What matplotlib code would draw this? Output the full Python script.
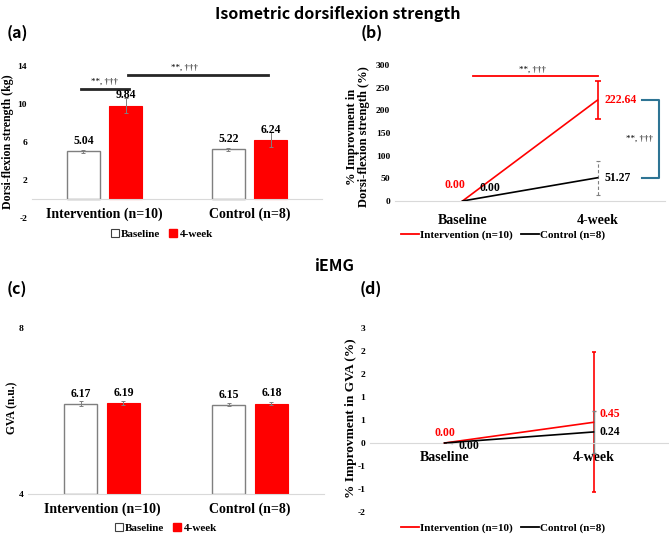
import numpy as np
import matplotlib
matplotlib.use("Agg")
import matplotlib.pyplot as plt
from matplotlib.patches import Patch
from matplotlib.lines import Line2D

# data
groups = ["Intervention (n=10)", "Control (n=8)"]
times = ["Baseline", "4-week"]

strength_base = [5.04, 5.22]
strength_base_err = [0.15, 0.15]
strength_post = [9.84, 6.24]
strength_post_err = [0.77, 0.8]

impr_strength_int = [0.00, 222.64]
impr_strength_int_err = [0, 41]
impr_strength_ctl = [0.00, 51.27]
impr_strength_ctl_err = [0, 37]

gva_base = [6.17, 6.15]
gva_base_err = [0.06, 0.04]
gva_post = [6.19, 6.18]
gva_post_err = [0.04, 0.03]

impr_gva_int = [0.00, 0.45]
impr_gva_int_err = [0, 1.52]
impr_gva_ctl = [0.00, 0.24]
impr_gva_ctl_err = [0, 0.46]

W, H = 669, 535
RED = "#ff0000"
GRAY = "#7f7f7f"
BLUE = "#2e7494"
SERIF = "Liberation Serif"
SANS = "Noto Sans CJK KR"

plt.rcParams["font.family"] = SERIF
plt.rcParams["font.weight"] = "bold"
plt.rcParams["axes.unicode_minus"] = False

fig = plt.figure(figsize=(W / 100, H / 100), dpi=100)


def box(x0, y0, x1, y1):
    return [x0 / W, 1 - y1 / H, (x1 - x0) / W, (y1 - y0) / H]


def clean(ax, base):
    for s in ["top", "right", "left"]:
        ax.spines[s].set_visible(False)
    ax.spines["bottom"].set_position(("data", base))
    ax.spines["bottom"].set_color("#d9d9d9")
    ax.tick_params(axis="both", length=0)
    ax.tick_params(axis="y", labelsize=6.8)
    for lab in ax.get_yticklabels():
        lab.set_fontweight("bold")


def bars(ax, base, base_err, post, post_err, bottom):
    x = np.arange(len(groups))
    off, w = 0.145, 0.228
    ax.bar(x - off, np.array(base) - bottom, w, bottom=bottom, color="white",
           edgecolor=GRAY, linewidth=1.0, zorder=2)
    ax.bar(x + off, np.array(post) - bottom, w, bottom=bottom, color=RED,
           edgecolor=RED, linewidth=0.8, zorder=2)
    ax.errorbar(x - off, base, yerr=base_err, fmt="none", ecolor=GRAY,
                elinewidth=0.7, capsize=1.5, capthick=0.7, zorder=3)
    ax.errorbar(x + off, post, yerr=post_err, fmt="none", ecolor=GRAY,
                elinewidth=0.7, capsize=1.5, capthick=0.7, zorder=3)
    for xi, v in zip(x - off, base):
        ax.annotate(f"{v:.2f}", (xi, v), xytext=(0, 3), textcoords="offset points",
                    ha="center", va="bottom", fontsize=8.5, fontweight="bold")
    for xi, v in zip(x + off, post):
        ax.annotate(f"{v:.2f}", (xi, v), xytext=(0, 3), textcoords="offset points",
                    ha="center", va="bottom", fontsize=8.5, fontweight="bold")
    ax.set_xticks(x)
    ax.set_xticklabels(groups, fontsize=8.3, fontweight="bold")
    ax.set_xlim(-0.5, 1.5)
    return x, off


def bar_legend(xc, yc):
    h = [Patch(facecolor="white", edgecolor="#404040", linewidth=0.8),
         Patch(facecolor=RED, edgecolor=RED)]
    fig.legend(h, times, loc="center", bbox_to_anchor=(xc / W, 1 - yc / H),
               ncol=2, frameon=False, handlelength=0.7, handleheight=0.7,
               handletextpad=0.2, columnspacing=0.8,
               prop={"family": SERIF, "weight": "bold", "size": 8})


def line_legend(xc, yc):
    h = [Line2D([], [], color=RED, lw=1.3), Line2D([], [], color="black", lw=1.3)]
    fig.legend(h, groups, loc="center", bbox_to_anchor=(xc / W, 1 - yc / H),
               ncol=2, frameon=False, handlelength=1.6, handletextpad=0.1,
               columnspacing=0.8,
               prop={"family": SERIF, "weight": "bold", "size": 8})


# titles
fig.text(338 / W, 1 - 14 / H, "Isometric dorsiflexion strength", ha="center", va="center",
         family=SANS, fontweight="bold", fontsize=11.5)
fig.text(335 / W, 1 - 266 / H, "iEMG", ha="center", va="center",
         family=SANS, fontweight="bold", fontsize=11.5)
for lab, x, y in [("(a)", 17, 33), ("(b)", 372, 33), ("(c)", 17, 289), ("(d)", 371, 289)]:
    fig.text(x / W, 1 - y / H, lab, ha="center", va="center",
             family=SANS, fontweight="bold", fontsize=11.5)

# (a)
ax = fig.add_axes(box(32, 66, 322, 218))
x, off = bars(ax, strength_base, strength_base_err, strength_post, strength_post_err, 0)
ax.set_ylim(-2, 14)
ax.set_yticks([-2, 2, 6, 10, 14])
clean(ax, 0)
ax.tick_params(axis="x", pad=6)
ax.set_ylabel("Dorsi-flexion strength (kg)", fontsize=8.6, fontweight="bold")
ax.yaxis.set_label_coords(-0.062, 0.5)
ax.plot([x[0] - off - 0.015, x[0] + off + 0.025], [11.6, 11.6], color="#262626", lw=2)
ax.text(x[0], 11.9, "**, †††", ha="center", va="bottom", fontsize=6.5, fontweight="normal")
ax.plot([x[0] + off + 0.02, x[1] + off - 0.02], [13.05, 13.05], color="#262626", lw=2)
ax.text((x[0] + x[1]) / 2 + 0.05, 13.35, "**, †††", ha="center", va="bottom",
        fontsize=6.5, fontweight="normal")
bar_legend(162, 234)

# (b)
ax = fig.add_axes(box(395, 65, 665, 201))
xt = np.arange(len(times))
ax.plot(xt, impr_strength_int, color=RED, lw=1.2, zorder=3)
ax.plot(xt, impr_strength_ctl, color="black", lw=1.2, zorder=3)
ax.errorbar(xt[1:], impr_strength_int[1:], yerr=impr_strength_int_err[1:], fmt="none",
            ecolor=RED, elinewidth=1.2, capsize=2.5, capthick=1.2)
eb = ax.errorbar(xt[1:], impr_strength_ctl[1:], yerr=impr_strength_ctl_err[1:], fmt="none",
                 ecolor=GRAY, elinewidth=0.8, capsize=1.5, capthick=0.8)
eb[2][0].set_linestyle((0, (3, 2)))
ax.set_xlim(-0.5, 1.5)
ax.set_ylim(0, 300)
ax.set_yticks(range(0, 301, 50))
ax.set_xticks(xt)
ax.set_xticklabels(times, fontsize=8.3, fontweight="bold")
clean(ax, 0)
ax.tick_params(axis="x", pad=9)
ax.set_ylabel("% Improvment in\nDorsi-flexion strength (%)", fontsize=9,
              fontweight="bold", linespacing=1.0)
ax.yaxis.set_label_coords(-0.093, 0.47)
ax.annotate(f"{impr_strength_int[0]:.2f}", (xt[0], impr_strength_int[0]), xytext=(2, 7),
            textcoords="offset points", ha="right", va="bottom", color=RED,
            fontsize=8.5, fontweight="bold")
ax.annotate(f"{impr_strength_ctl[0]:.2f}", (xt[0], impr_strength_ctl[0]), xytext=(12, 5),
            textcoords="offset points", ha="left", va="bottom", color="black",
            fontsize=8.5, fontweight="bold")
ax.annotate(f"{impr_strength_int[1]:.2f}", (xt[1], impr_strength_int[1]), xytext=(5, 0),
            textcoords="offset points", ha="left", va="center", color=RED,
            fontsize=8.5, fontweight="bold")
ax.annotate(f"{impr_strength_ctl[1]:.2f}", (xt[1], impr_strength_ctl[1]), xytext=(5, 0),
            textcoords="offset points", ha="left", va="center", color="black",
            fontsize=8.5, fontweight="bold")
ax.plot([0.08, 1.0], [276, 276], color=RED, lw=1.3, clip_on=False)
ax.text(0.52, 281, "**, †††", ha="center", va="bottom", fontsize=6.5, fontweight="normal")
ax.plot([1.326, 1.452, 1.452, 1.326],
        [impr_strength_int[1], impr_strength_int[1], impr_strength_ctl[1], impr_strength_ctl[1]],
        color=BLUE, lw=1.5, clip_on=False)
ax.text(1.41, 137, "**, †††", ha="right", va="center", fontsize=6.5, fontweight="normal")
line_legend(503, 235)

# (c)
ax = fig.add_axes(box(28, 328, 324, 494))
x, off = bars(ax, gva_base, gva_base_err, gva_post, gva_post_err, 4)
ax.set_ylim(4, 8)
ax.set_yticks([4, 8])
clean(ax, 4)
ax.tick_params(axis="x", pad=6)
ax.set_ylabel("GVA (n.u.)", fontsize=8.3, fontweight="bold")
ax.yaxis.set_label_coords(-0.034, 0.52)
bar_legend(166, 528)

# (d)
ax = fig.add_axes(box(370, 328, 668, 512))
ax.plot(xt, impr_gva_int, color=RED, lw=1.2, zorder=3)
ax.plot(xt, impr_gva_ctl, color="black", lw=1.2, zorder=3)
ax.errorbar(xt[1:], impr_gva_int[1:], yerr=impr_gva_int_err[1:], fmt="none",
            ecolor=RED, elinewidth=1.2, capsize=1.5, capthick=1.2, zorder=2)
ax.errorbar(xt[1:], impr_gva_ctl[1:], yerr=impr_gva_ctl_err[1:], fmt="none",
            ecolor=GRAY, elinewidth=1.0, capsize=1.5, capthick=1.0, zorder=2.5)
ax.set_xlim(-0.5, 1.5)
ax.set_ylim(-1.5, 2.5)
ax.set_yticks(np.arange(-1.5, 2.51, 0.5))
ax.set_yticklabels(["-2", "-1", "-1", "0", "1", "1", "2", "2", "3"])
ax.set_xticks(xt)
ax.set_xticklabels(times, fontsize=8.3, fontweight="bold")
clean(ax, 0)
ax.tick_params(axis="x", pad=6)
ax.set_ylabel("% Improvment in GVA (%)", fontsize=9.6, fontweight="bold")
ax.yaxis.set_label_coords(-0.045, 0.51)
ax.annotate(f"{impr_gva_int[0]:.2f}", (xt[0], impr_gva_int[0]), xytext=(0, 3),
            textcoords="offset points", ha="center", va="bottom", color=RED,
            fontsize=8.5, fontweight="bold")
ax.annotate(f"{impr_gva_ctl[0]:.2f}", (xt[0], impr_gva_ctl[0]), xytext=(10, -2),
            textcoords="offset points", ha="left", va="center", color="black",
            fontsize=8.5, fontweight="bold",
            arrowprops=dict(arrowstyle="-", color=GRAY, lw=0.5))
ax.annotate(f"{impr_gva_int[1]:.2f}", (xt[1], impr_gva_int[1]), xytext=(4, 6),
            textcoords="offset points", ha="left", va="center", color=RED,
            fontsize=8.5, fontweight="bold")
ax.annotate(f"{impr_gva_ctl[1]:.2f}", (xt[1], impr_gva_ctl[1]), xytext=(4, 0),
            textcoords="offset points", ha="left", va="center", color="black",
            fontsize=8.5, fontweight="bold")
line_legend(503, 528)

fig.savefig("out.png", dpi=100)
